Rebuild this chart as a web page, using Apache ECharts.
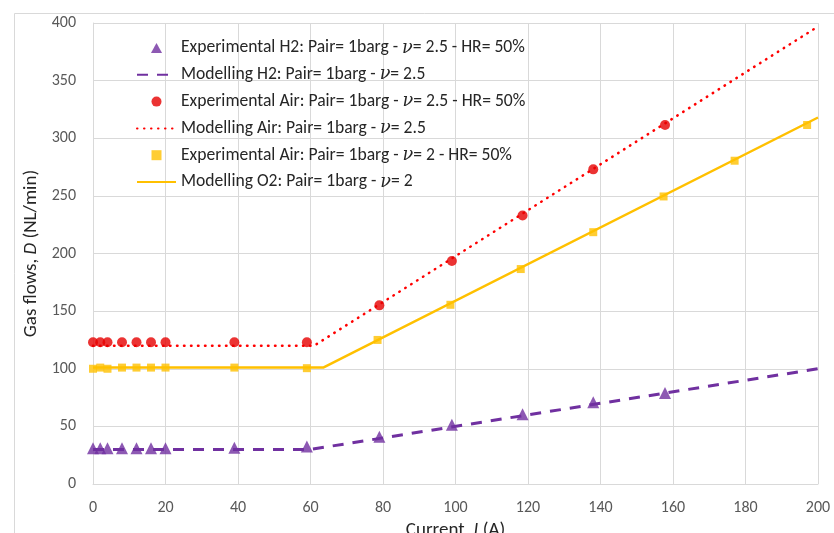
<!DOCTYPE html>
<html>
<head>
<meta charset="utf-8">
<script src="https://cdn.jsdelivr.net/npm/echarts@6/dist/echarts.min.js"></script>
<style>html,body{margin:0;padding:0;background:#fff;overflow:hidden}#c{width:834px;height:533px}</style>
</head>
<body>
<div id="c"></div>
<script>
// Experimental data
const xExp = [0, 2, 4, 8, 12, 16, 20, 39, 59, 79, 99, 118.5, 138, 157.8];
const h2Exp = [31, 31, 31, 31, 31, 31, 31, 31.5, 32.5, 41, 51.5, 60.5, 71, 79];
const airExp = [123, 123, 123, 123, 123, 123, 123, 123, 123, 155, 193.5, 233, 273, 311.5];
const xExpO2 = [0, 2, 4, 8, 12, 16, 20, 39, 59, 78.5, 98.6, 118, 138, 157.4, 177, 197];
const o2Exp = [100, 101, 100, 101, 101, 101, 101, 101, 100.5, 125, 155.5, 186.5, 218.5, 249.5, 280.5, 311.5];
// Modelling data (break points)
const xModH2 = [0, 60, 200];
const h2Mod = [30, 30, 100];
const xModAir = [0, 61, 200];
const airMod = [120, 120, 397];
const xModO2 = [0, 63.5, 200];
const o2Mod = [101, 101, 318];
// Labels
const seriesNames = [
  'Experimental H2: Pair= 1barg - ν= 2.5 - HR= 50%',
  'Modelling H2: Pair= 1barg - ν= 2.5',
  'Experimental Air: Pair= 1barg - ν= 2.5 - HR= 50%',
  'Modelling Air: Pair= 1barg - ν= 2.5',
  'Experimental Air: Pair= 1barg - ν= 2 - HR= 50%',
  'Modelling O2: Pair= 1barg - ν= 2'
];
const xTitle = 'Current, {i|I} (A)';
const yTitle = 'Gas flows, {i|D} (NL/min)';

const zip = (xs, ys) => xs.map((x, i) => [x, ys[i]]);
const FONT = 'Carlito, Lato, sans-serif';
const PURPLE = '#7030A0', RED = '#FF0000', REDM = '#E60000', YEL = '#FFC000';
const TXT = '#262626', TICK = '#595959';

const chart = echarts.init(document.getElementById('c'), null, {renderer: 'canvas'});
chart.setOption({
  animation: false,
  backgroundColor: '#fff',
  textStyle: {fontFamily: FONT},
  graphic: [{
    type: 'rect', left: 12, top: 11, silent: true, z: -10,
    shape: {width: 900, height: 600},
    style: {fill: 'none', stroke: '#d9d9d9', lineWidth: 1}
  }],
  grid: {left: 93, right: 16, top: 23, bottom: 49, containLabel: false, outerBoundsMode: 'none'},
  legend: {
    orient: 'vertical', left: 136, top: 39, padding: 0,
    itemWidth: 39, itemHeight: 10, itemGap: 8.8,
    textStyle: {fontSize: 17.6, lineHeight: 18, color: TXT, fontFamily: FONT,
      rich: {i: {fontStyle: 'italic', fontSize: 17.6, lineHeight: 18, fontFamily: 'DejaVu Serif', color: TXT}}},
    formatter: n => n.replace('ν', '{i|ν}'),
    data: [
      {name: seriesNames[0], icon: 'path://M5,0L10,9L0,9Z'},
      {name: seriesNames[1], itemStyle: {opacity: 0}},
      {name: seriesNames[2], icon: 'circle'},
      {name: seriesNames[3], itemStyle: {opacity: 0}},
      {name: seriesNames[4], icon: 'path://M0,0H10V10H0Z'},
      {name: seriesNames[5], itemStyle: {opacity: 0}}
    ]
  },
  xAxis: {
    type: 'value', min: 0, max: 200, interval: 20,
    name: xTitle, nameLocation: 'middle', nameGap: 32,
    nameTextStyle: {fontSize: 19, color: TXT, fontFamily: FONT,
      rich: {i: {fontStyle: 'italic', fontSize: 19, color: TXT, fontFamily: FONT}}},
    axisLine: {show: true, lineStyle: {color: '#d9d9d9'}},
    axisTick: {show: false},
    axisLabel: {fontSize: 16, color: TICK, margin: 16, fontFamily: FONT},
    splitLine: {show: true, lineStyle: {color: '#d9d9d9', width: 1}}
  },
  yAxis: {
    type: 'value', min: 0, max: 400, interval: 50,
    name: yTitle, nameLocation: 'middle', nameGap: 49, nameRotate: 90,
    nameTextStyle: {fontSize: 19, color: TXT, fontFamily: FONT,
      rich: {i: {fontStyle: 'italic', fontSize: 19, color: TXT, fontFamily: FONT}}},
    axisLine: {show: true, lineStyle: {color: '#d9d9d9'}},
    axisTick: {show: false},
    axisLabel: {fontSize: 16, color: TICK, margin: 17, fontFamily: FONT},
    splitLine: {show: true, lineStyle: {color: '#d9d9d9', width: 1}}
  },
  series: [
    {name: seriesNames[0], type: 'scatter', symbol: 'triangle', symbolSize: 12,
     itemStyle: {color: PURPLE}, data: zip(xExp, h2Exp), z: 5},
    {name: seriesNames[1], type: 'line', symbol: 'none', showSymbol: false,
     lineStyle: {color: PURPLE, width: 3, type: [11, 9]}, itemStyle: {color: PURPLE},
     data: zip(xModH2, h2Mod), z: 3},
    {name: seriesNames[2], type: 'scatter', symbol: 'circle', symbolSize: 10,
     itemStyle: {color: REDM}, data: zip(xExp, airExp), z: 5},
    {name: seriesNames[3], type: 'line', symbol: 'none', showSymbol: false,
     lineStyle: {color: RED, width: 2.5, type: [0.5, 6.5], cap: 'round'}, itemStyle: {color: RED},
     data: zip(xModAir, airMod), z: 3},
    {name: seriesNames[4], type: 'scatter', symbol: 'rect', symbolSize: 8,
     itemStyle: {color: YEL}, data: zip(xExpO2, o2Exp), z: 5},
    {name: seriesNames[5], type: 'line', symbol: 'none', showSymbol: false,
     lineStyle: {color: YEL, width: 2.5}, itemStyle: {color: YEL},
     data: zip(xModO2, o2Mod), z: 3}
  ]
});
</script>
</body>
</html>
